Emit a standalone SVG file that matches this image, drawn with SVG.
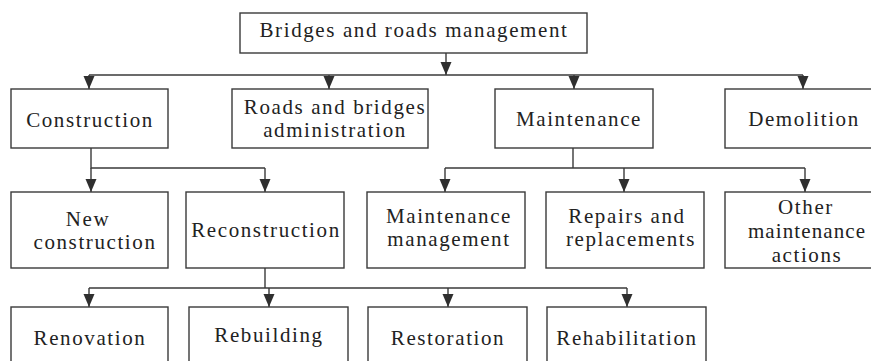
<svg xmlns="http://www.w3.org/2000/svg" width="871" height="361" viewBox="0 0 871 361">
<defs>
<marker id="ah" markerUnits="userSpaceOnUse" markerWidth="14" markerHeight="12" viewBox="0 0 14 12" refX="13" refY="6" orient="auto">
<path d="M0,0.5 L13,6 L0,11.5 Z" fill="#2f2f2f"/>
</marker>
<style>
rect{fill:#fff;stroke:#3a3a3a;stroke-width:1.4}
text{font-family:"Liberation Serif","Times New Roman",serif;font-size:21px;fill:#222;text-anchor:middle;letter-spacing:1.6px}
#connectors path{fill:none;stroke:#3a3a3a;stroke-width:1.4}
#connectors .a{marker-end:url(#ah)}
</style>
</defs>
<rect x="0" y="0" width="871" height="361" style="fill:#fff;stroke:none"/>
<g id="connectors">
<path class="a" d="M446,53 V75"/>
<path d="M89,75 H803"/>
<path class="a" d="M89,75 V89"/>
<path class="a" d="M329,75 V89"/>
<path class="a" d="M574,75 V89"/>
<path class="a" d="M803,75 V89"/>
<path d="M91,148 V168 H265"/>
<path class="a" d="M91,168 V192"/>
<path class="a" d="M265,168 V192"/>
<path d="M573,148 V168"/>
<path d="M445,168 H805"/>
<path class="a" d="M445,168 V192"/>
<path class="a" d="M624,168 V192"/>
<path class="a" d="M805,168 V192"/>
<path d="M265,268 V288"/>
<path d="M89,288 H627"/>
<path class="a" d="M89,288 V307"/>
<path class="a" d="M269,288 V307"/>
<path class="a" d="M448,288 V307"/>
<path class="a" d="M627,288 V307"/>
</g>
<g id="root"><rect x="240" y="13" width="347" height="40"/><text x="414" y="37">Bridges and roads management</text></g>
<g id="construction"><rect x="11" y="89" width="157" height="59"/><text x="90" y="127">Construction</text></g>
<g id="administration"><rect x="232" y="89" width="196" height="59"/><text x="335" y="114">Roads and bridges</text><text x="335" y="137">administration</text></g>
<g id="maintenance"><rect x="495" y="89" width="158" height="59"/><text x="579" y="126">Maintenance</text></g>
<g id="demolition"><rect x="725" y="89" width="160" height="59"/><text x="804" y="126">Demolition</text></g>
<g id="new-construction"><rect x="11" y="192" width="157" height="76"/><text x="88" y="226">New</text><text x="95" y="249">construction</text></g>
<g id="reconstruction"><rect x="186" y="192" width="158" height="76"/><text x="266" y="237">Reconstruction</text></g>
<g id="maintenance-management"><rect x="367" y="192" width="158" height="76"/><text x="449" y="223">Maintenance</text><text x="449" y="246">management</text></g>
<g id="repairs"><rect x="546" y="192" width="158" height="76"/><text x="627" y="223">Repairs and</text><text x="631" y="246">replacements</text></g>
<g id="other"><rect x="725" y="192" width="160" height="76"/><text x="806" y="214">Other</text><text x="807" y="238" style="letter-spacing:1.1px">maintenance</text><text x="807" y="262">actions</text></g>
<g id="renovation"><rect x="11" y="307" width="157" height="70"/><text x="90" y="345">Renovation</text></g>
<g id="rebuilding"><rect x="189" y="307" width="159" height="70"/><text x="269" y="342">Rebuilding</text></g>
<g id="restoration"><rect x="368" y="307" width="159" height="70"/><text x="448" y="345">Restoration</text></g>
<g id="rehabilitation"><rect x="547" y="307" width="159" height="70"/><text x="627" y="345">Rehabilitation</text></g>
</svg>
